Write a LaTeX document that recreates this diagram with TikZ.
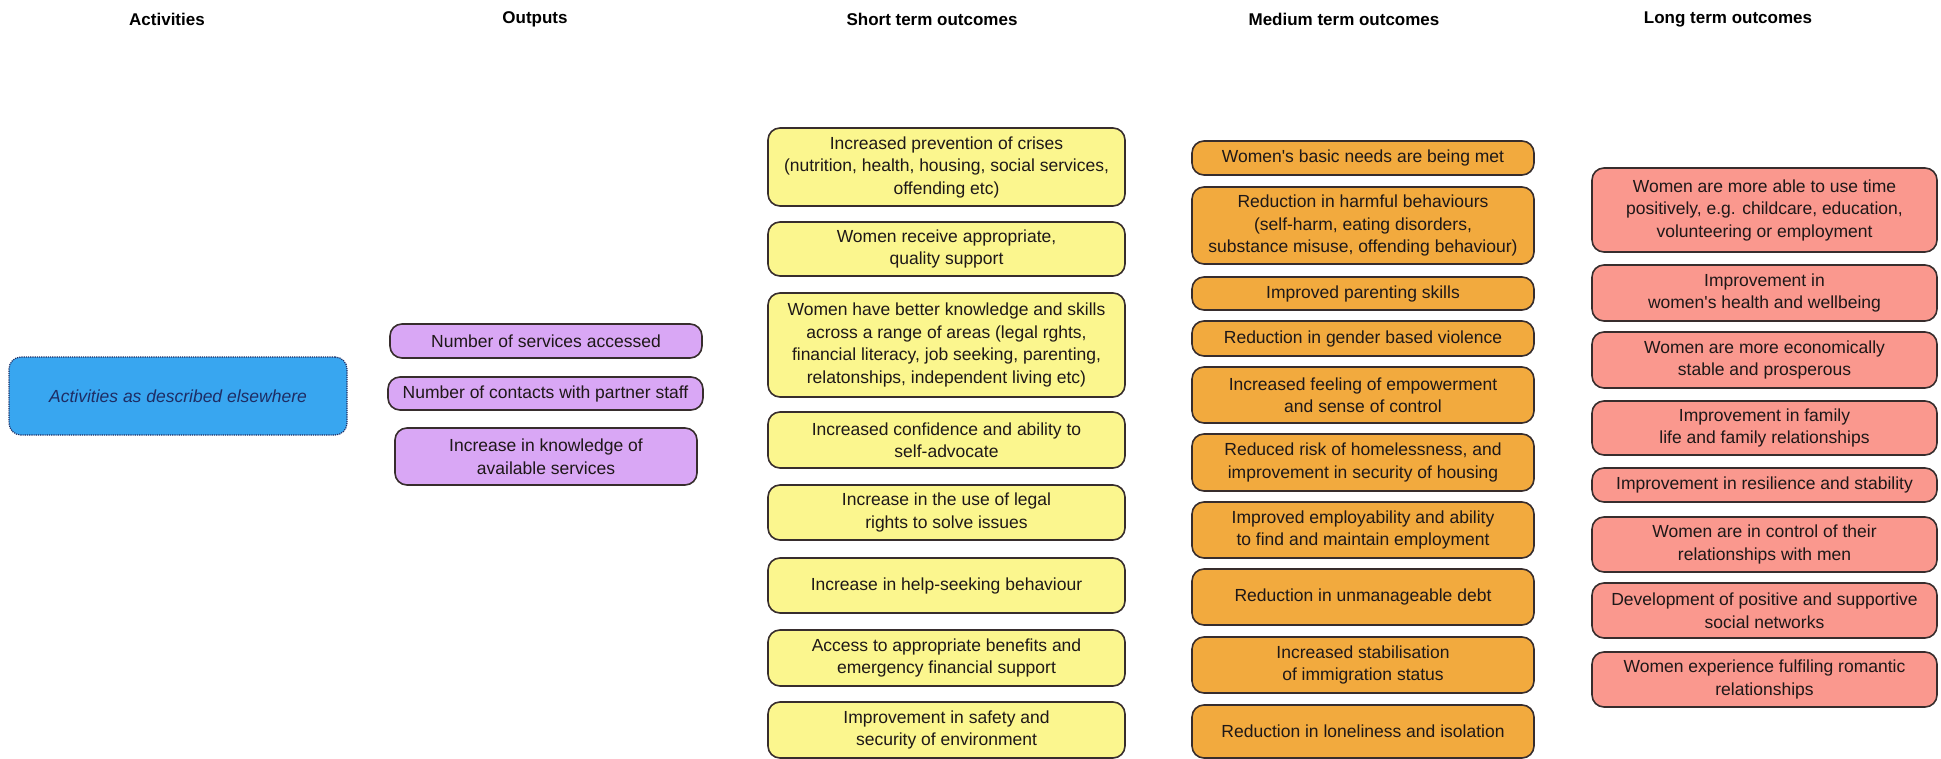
\documentclass[tikz,border=0pt]{standalone}
\usepackage{fontspec}
\setmainfont{Liberation Sans}
\usepackage{tikz}
\definecolor{actblue}{RGB}{56,166,240}
\definecolor{actnavy}{RGB}{30,45,100}
\definecolor{outpurple}{RGB}{217,167,245}
\definecolor{shortyellow}{RGB}{251,246,142}
\definecolor{medorange}{RGB}{242,170,62}
\definecolor{longred}{RGB}{250,152,142}
\definecolor{boxedge}{RGB}{55,45,45}
\definecolor{boxtext}{RGB}{30,24,24}
\tikzset{
  box/.style={draw=boxedge, line width=1.6pt, rounded corners=12pt, align=center,
    inner sep=0pt, text=boxtext, font=\fontsize{17.5}{22.5}\selectfont},
  actbox/.style={box, draw=actnavy, line width=1.2pt, densely dotted, fill=actblue,
    text=actnavy, font=\fontsize{17.5}{22.5}\selectfont\itshape},
  outbox/.style={box, fill=outpurple},
  shortbox/.style={box, fill=shortyellow, minimum width=357},
  medbox/.style={box, fill=medorange, minimum width=342},
  longbox/.style={box, fill=longred, minimum width=345},
  heading/.style={font=\fontsize{17}{20}\selectfont\bfseries, text=black}
}

\begin{document}
\begin{tikzpicture}[x=1pt, y=-1pt]
      \useasboundingbox[fill=white] (0,0) rectangle (1941,759);
      % headings
      \node[heading] (hact) at (167,19) {Activities};
      \node[heading] (hout) at (535,19) {Outputs};
      \node[heading] (hshort) at (932,19) {Short term outcomes};
      \node[heading] (hmed) at (1344,19) {Medium term outcomes};
      \node[heading] (hlong) at (1728,19) {Long term outcomes};
      % activities
      \node[actbox, minimum width=338, minimum height=78] (act) at (178,396) {Activities as described elsewhere};
      % outputs
      \node[outbox, minimum width=312, minimum height=34] (out1) at (546,341) {Number of services accessed};
      \node[outbox, minimum width=315, minimum height=33] (out2) at (545.5,393.5) {Number of contacts with partner staff};
      \node[outbox, minimum width=302, minimum height=57] (out3) at (546,456.5) {Increase in knowledge of\\available services};
      % short term outcomes
      \node[shortbox, minimum height=78] (short1) at (946.5,167) {Increased prevention of crises\\(nutrition, health, housing, social services,\\offending etc)};
      \node[shortbox, minimum height=54] (short2) at (946.5,249) {Women receive appropriate,\\quality support};
      \node[shortbox, minimum height=104] (short3) at (946.5,345) {Women have better knowledge and skills\\across a range of areas (legal rghts,\\financial literacy, job seeking, parenting,\\relatonships, independent living etc)};
      \node[shortbox, minimum height=56] (short4) at (946.5,440) {Increased confidence and ability to\\self-advocate};
      \node[shortbox, minimum height=55] (short5) at (946.5,512.5) {Increase in the use of legal\\rights to solve issues};
      \node[shortbox, minimum height=55] (short6) at (946.5,585.5) {Increase in help-seeking behaviour};
      \node[shortbox, minimum height=56] (short7) at (946.5,658) {Access to appropriate benefits and\\emergency financial support};
      \node[shortbox, minimum height=56] (short8) at (946.5,730) {Improvement in safety and\\security of environment};
      % medium term outcomes
      \node[medbox, minimum height=34] (med1) at (1363,158) {Women\textquotesingle s basic needs are being met};
      \node[medbox, minimum height=77] (med2) at (1363,225.5) {Reduction in harmful behaviours\\(self-harm, eating disorders,\\substance misuse, offending behaviour)};
      \node[medbox, minimum height=33] (med3) at (1363,293.5) {Improved parenting skills};
      \node[medbox, minimum height=35] (med4) at (1363,338.5) {Reduction in gender based violence};
      \node[medbox, minimum height=56] (med5) at (1363,395) {Increased feeling of empowerment\\and sense of control};
      \node[medbox, minimum height=57] (med6) at (1363,462.5) {Reduced risk of homelessness, and\\improvement in security of housing};
      \node[medbox, minimum height=56] (med7) at (1363,530) {Improved employability and ability\\to find and maintain employment};
      \node[medbox, minimum height=56] (med8) at (1363,597) {Reduction in unmanageable debt};
      \node[medbox, minimum height=56] (med9) at (1363,665) {Increased stabilisation\\of immigration status};
      \node[medbox, minimum height=53] (med10) at (1363,731.5) {Reduction in loneliness and isolation};
      % long term outcomes
      \node[longbox, minimum height=84] (long1) at (1764.5,210) {Women are more able to use time\\positively, e.g. childcare, education,\\volunteering or employment};
      \node[longbox, minimum height=56] (long2) at (1764.5,293) {Improvement in\\women\textquotesingle s health and wellbeing};
      \node[longbox, minimum height=56] (long3) at (1764.5,360) {Women are more economically\\stable and prosperous};
      \node[longbox, minimum height=54] (long4) at (1764.5,428) {Improvement in family\\life and family relationships};
      \node[longbox, minimum height=34] (long5) at (1764.5,485) {Improvement in resilience and stability};
      \node[longbox, minimum height=55] (long6) at (1764.5,544.5) {Women are in control of their\\relationships with men};
      \node[longbox, minimum height=55] (long7) at (1764.5,610.5) {Development of positive and supportive\\social networks};
      \node[longbox, minimum height=55] (long8) at (1764.5,679.5) {Women experience fulfiling romantic\\relationships};
    \end{tikzpicture}
\end{document}
